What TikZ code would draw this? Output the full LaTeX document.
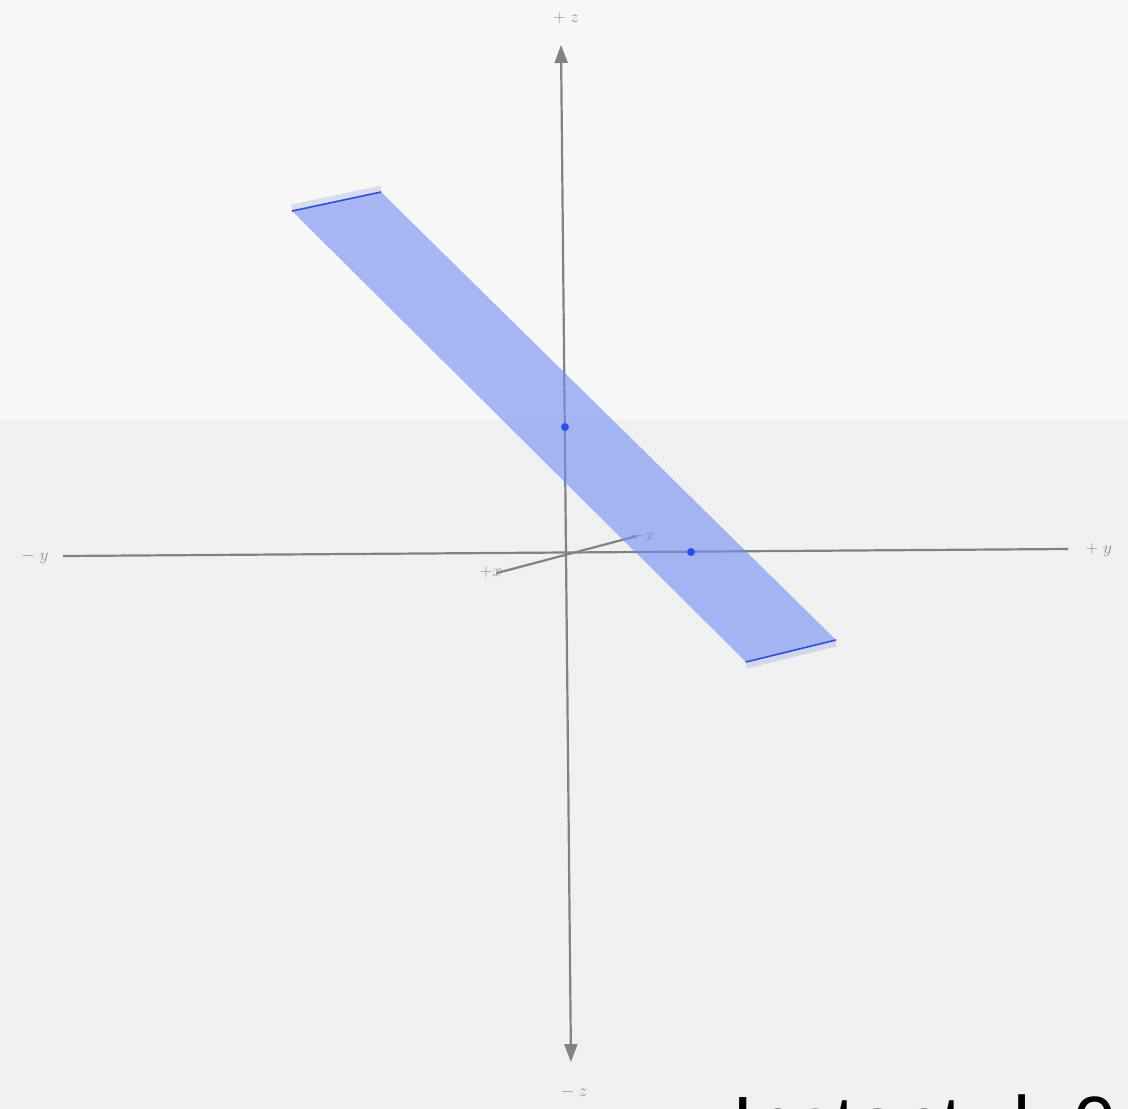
\documentclass[tikz,border=0pt]{standalone}
\usepackage{fontspec}
\newfontfamily\capfont{Liberation Sans}
\usetikzlibrary{arrows.meta}
\usetikzlibrary{positioning}

\definecolor{bgtop}{RGB}{247,247,247}
\definecolor{bgbot}{RGB}{240,240,240}
\definecolor{axisgray}{RGB}{130,130,130}
\definecolor{labelgray}{RGB}{140,140,140}
\definecolor{bandblue}{RGB}{112,140,244}
\definecolor{edgeblue}{RGB}{50,80,215}
\definecolor{dotblue}{RGB}{40,80,240}

\tikzset{
  axisline/.style={draw=axisgray, line width=2.2pt},
  axislabel/.style={text=labelgray, inner sep=0pt, font=\fontsize{19}{19}\selectfont},
  bandfill/.style={fill=bandblue, fill opacity=0.6},
  bandedge/.style={draw=edgeblue, line width=1.6pt},
  bandglow/.style={draw=edgeblue, line width=7pt, draw opacity=0.16},
  hitdot/.style={circle, fill=dotblue, inner sep=0pt, minimum size=8pt},
}

\begin{document}
\begin{tikzpicture}[x=1pt,y=-1pt]
\useasboundingbox (0,0) rectangle (1128,1109);
\clip (0,0) rectangle (1128,1109);
% background
\fill[bgtop] (0,0) rectangle (1128,420);
\fill[bgbot] (0,420) rectangle (1128,1109);

% axes
\coordinate (ymin) at (63,556);
\coordinate (ymax) at (1068,549);
\coordinate (ztop) at (561,45);
\coordinate (zbot) at (571,1062);
\coordinate (xpos) at (497,573);
\coordinate (xneg) at (637,536);
\draw[axisline] (ymin) -- (ymax);
\draw[axisline, {Triangle[length=18pt,width=13pt]}-{Triangle[length=18pt,width=13pt]}] (zbot) -- (ztop);
\draw[axisline] (xpos) -- (xneg);

\node[axislabel] (ztoplab) at (566,18) {$+\;z$};
\node[axislabel] (zbotlab) at (574,1092) {$-\;z$};
\node[axislabel] (yminlab) at (35,557) {$-\;y$};
\node[axislabel] (ymaxlab) at (1099,550) {$+\;y$};
\node[axislabel] (xposlab) at (491,572) {$+x$};
\node[axislabel] (xneglab) at (643,536) {$-x$};

% plane band
\coordinate (ptl) at (292,211);
\coordinate (ptr) at (381,192);
\coordinate (pbr) at (836,640);
\coordinate (pbl) at (746,662);
\fill[bandfill] (ptl) -- (ptr) -- (pbr) -- (pbl) -- cycle;
\draw[bandglow] ([yshift=3pt]ptl) -- ([yshift=3pt]ptr);
\draw[bandglow] ([yshift=-3pt]pbl) -- ([yshift=-3pt]pbr);
\draw[bandedge] (ptl) -- (ptr);
\draw[bandedge] (pbl) -- (pbr);

% intercepts
\node[hitdot] (zhit) at (565,427) {};
\node[hitdot] (yhit) at (691,552) {};

% caption, cut off at the bottom
\node[anchor=base west, inner sep=0pt, font=\capfont\fontsize{77}{77}\selectfont] (caption) at (732,1150) {Instant: k 0};
\end{tikzpicture}
\end{document}
